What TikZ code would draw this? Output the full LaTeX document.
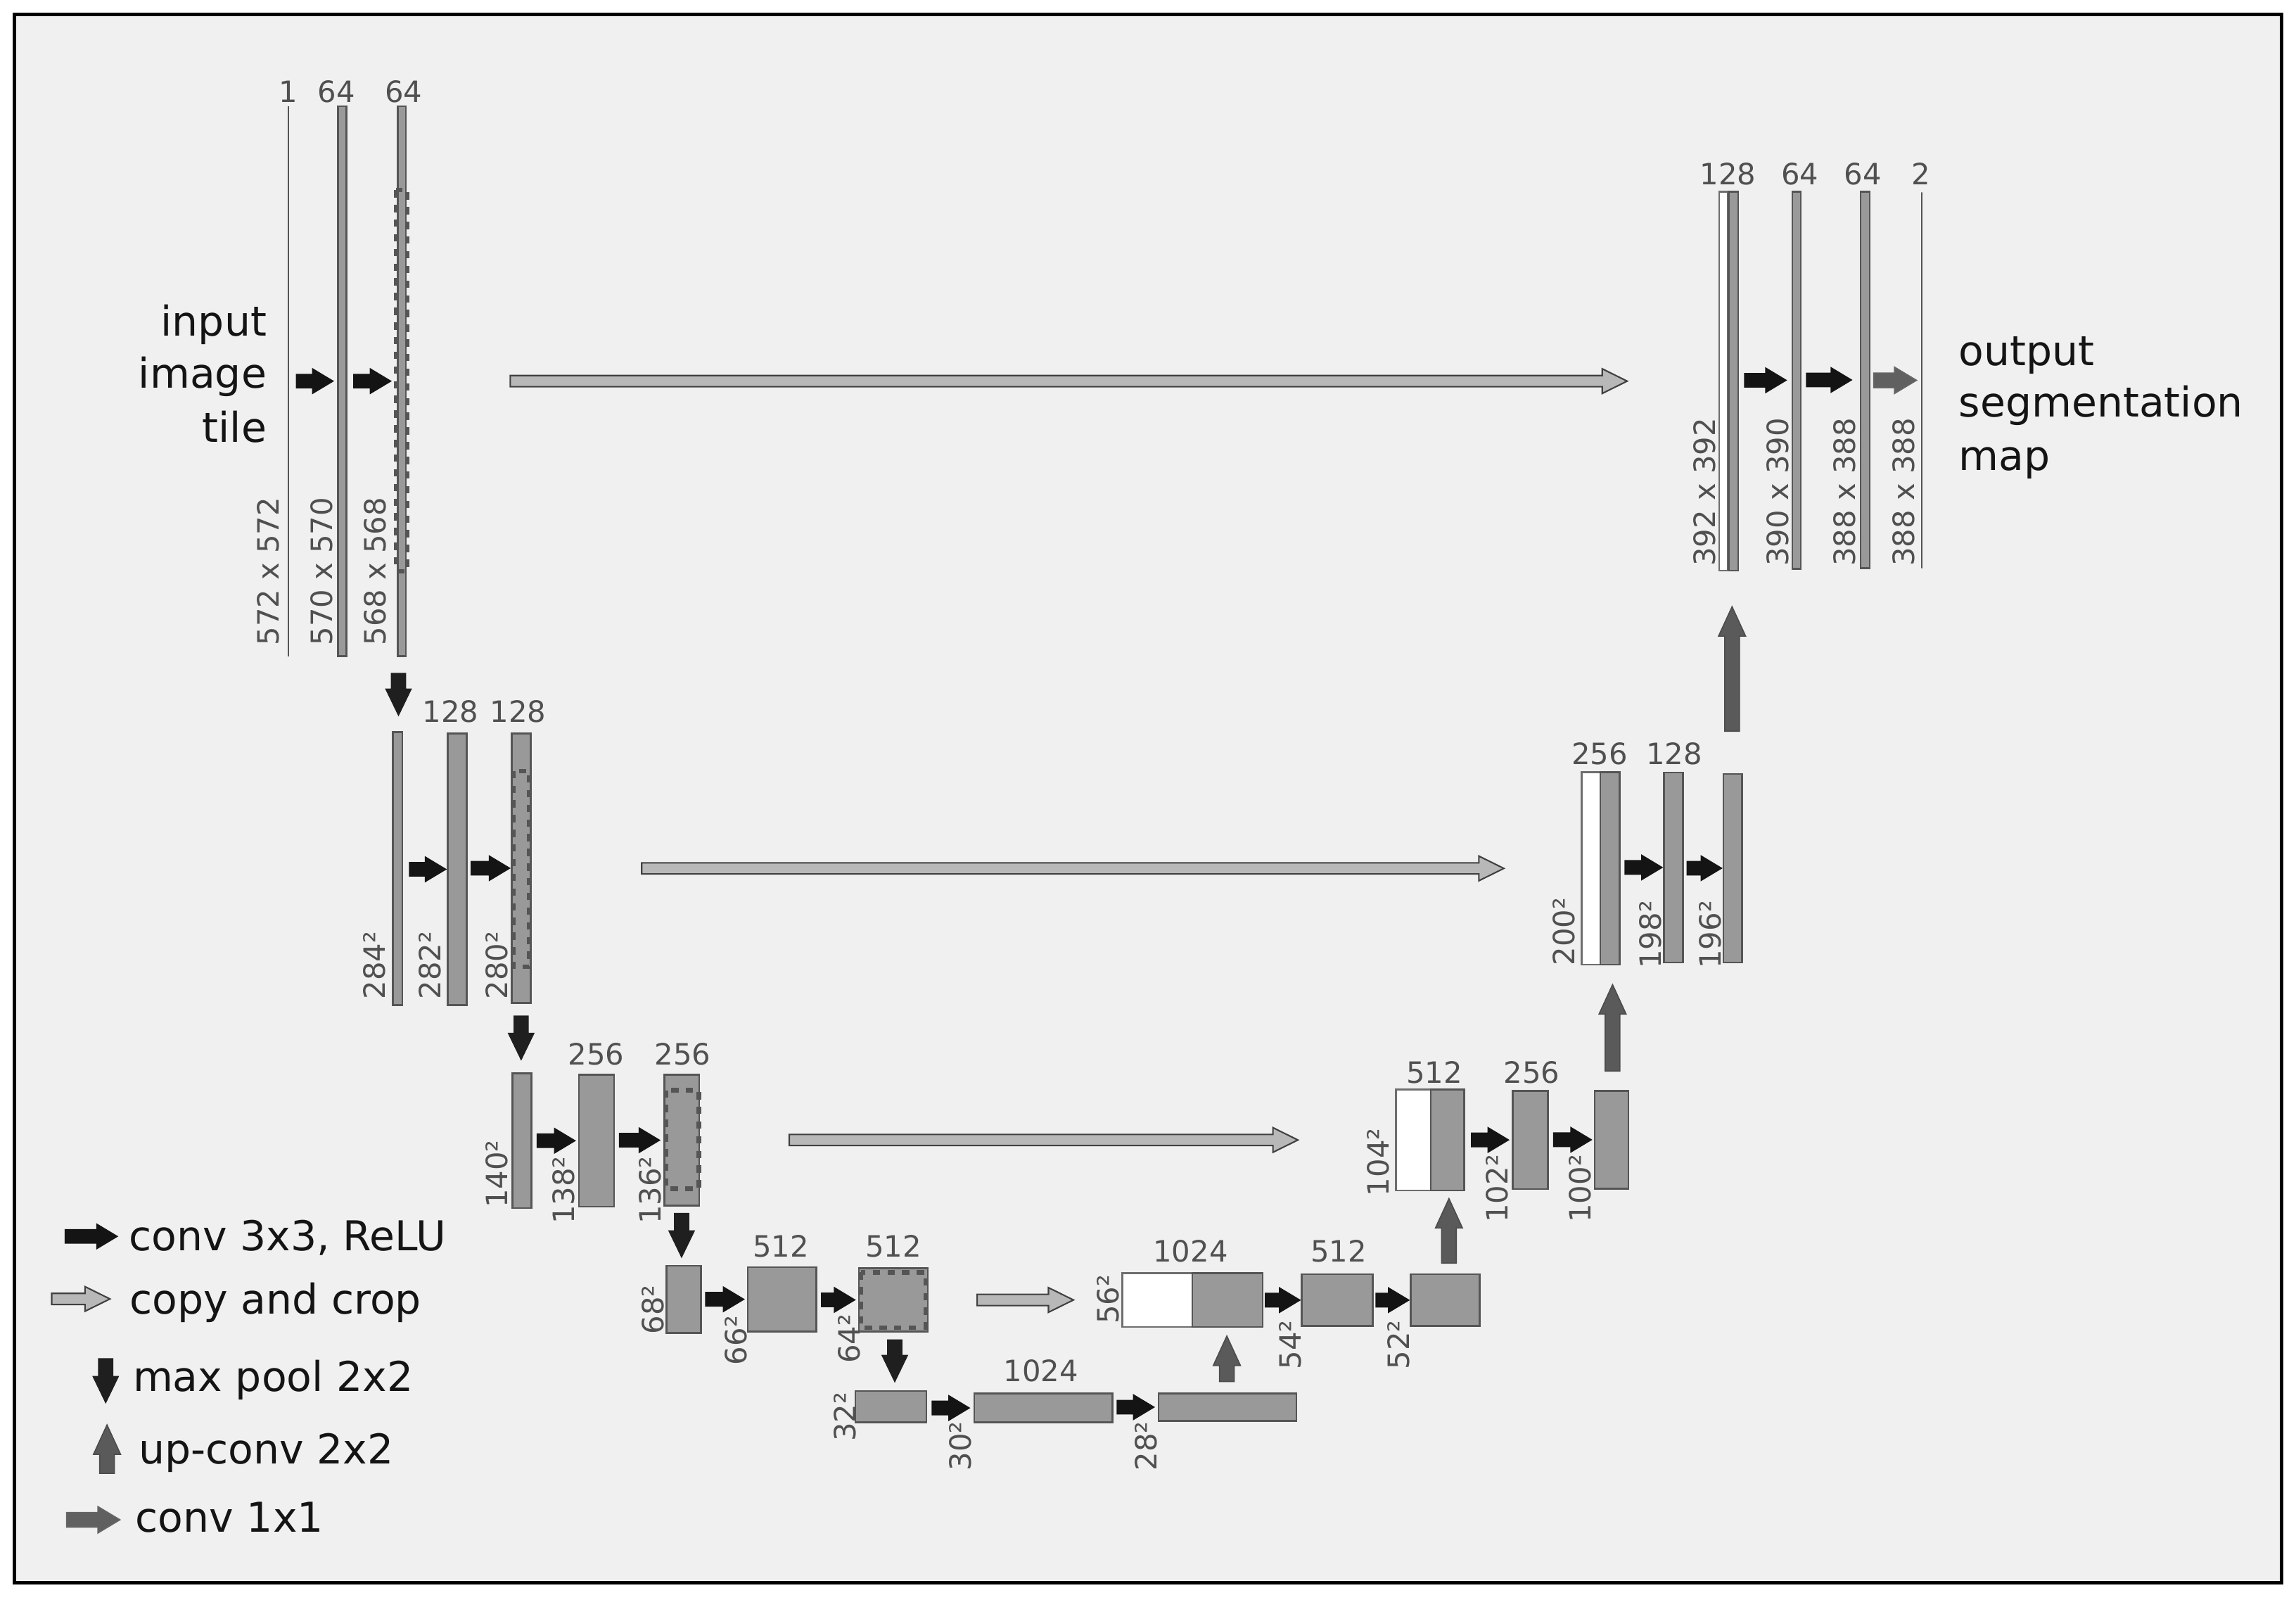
\documentclass[tikz,border=0pt]{standalone}
\usepackage{fontspec}
\setmainfont{DejaVu Sans}
\usetikzlibrary{calc,fit}
\definecolor{bgc}{HTML}{F0F0F0}
\definecolor{barfill}{HTML}{999999}
\definecolor{barline}{HTML}{555555}
\definecolor{numcol}{HTML}{505050}
\definecolor{copyfill}{HTML}{B8B8B8}
\definecolor{upfill}{HTML}{5A5A5A}
\definecolor{cvonefill}{HTML}{606060}
\tikzset{
  graybar/.style={draw=barline, fill=barfill, line width=0.6pt, inner sep=0pt, minimum width=0pt, minimum height=0pt},
  whitebar/.style={draw=barline!85, fill=white, line width=0.6pt, inner sep=0pt, minimum width=0pt, minimum height=0pt},
  thinbar/.style={draw=barline, line width=0.5pt, inner sep=0pt, minimum width=0pt, minimum height=0pt},
  cropbox/.style={draw=barline, line width=1.5pt, dash pattern=on 2.5pt off 2.5pt},
  num/.style={font=\fontsize{10}{12}\selectfont, text=numcol, inner sep=0pt},
  sizelab/.style={num, rotate=90, anchor=base west},
  toplab/.style={num, anchor=base},
  bigtext/.style={font=\fontsize{14}{18}\selectfont, text=black!92, inner sep=0pt},
  convA/.style={fill=black!92},
  poolA/.style={fill=black!88},
  copyA/.style={fill=copyfill, draw=black!75, line width=0.5pt},
  upA/.style={fill=upfill, draw=black!70, line width=0.4pt},
  cvoneA/.style={fill=cvonefill, draw=black!60, line width=0.4pt},
}
% block: optional style, name, x1, y1, x2, y2
\newcommand\blk[6][graybar]{\node[#1, fit={(#3,#4) (#5,#6)}] (#2) {};}
% horizontal block arrow: style, from, to, shaft half, head half, head length
\newcommand\harrow[6]{\path[#1] let \p1=#2, \p2=#3 in
  (\x1,\y2-#4) -- (\x2-#6,\y2-#4) -- (\x2-#6,\y2-#5) -- (\x2,\y2) --
  (\x2-#6,\y2+#5) -- (\x2-#6,\y2+#4) -- (\x1,\y2+#4) -- cycle;}
% vertical block arrow
\newcommand\varrow[6]{\path[#1] let \p1=#2, \p2=#3, \p3=($(\x1,\y2)!#6!(\x1,\y1)$) in
  (\x1-#4,\y1) -- (\x1-#4,\y3) -- (\x1-#5,\y3) -- (\x1,\y2) --
  (\x1+#5,\y3) -- (\x1+#4,\y3) -- (\x1+#4,\y1) -- cycle;}
\newcommand\convarr[2]{\harrow{convA}{#1}{#2}{2.5pt}{4.5pt}{7.5pt}}
\newcommand\cvonearr[2]{\harrow{cvoneA}{#1}{#2}{2.5pt}{4.5pt}{7.5pt}}
\newcommand\copyarr[2]{\harrow{copyA}{#1}{#2}{1.9pt}{4.2pt}{8.5pt}}
\newcommand\poolarr[2]{\varrow{poolA}{#1}{#2}{2.6pt}{4.6pt}{9.5pt}}
\newcommand\uparr[2]{\varrow{upA}{#1}{#2}{2.5pt}{4.6pt}{10pt}}
\begin{document}
\begin{tikzpicture}[x=0.5pt, y=-0.5pt]
\useasboundingbox (0,0) rectangle (1564,1094);
\fill[white] (0,0) rectangle (1564,1094);
\draw[line width=1.25pt, fill=bgc] (10,10) rectangle (1554,1078);

% ---------------- contracting path ----------------
\blk[thinbar]{L1a}{196.6}{72.4}{196.6}{447}
\blk{L1b}{230.2}{72.4}{236}{446.7}
\blk{L1c}{271}{72.4}{276.5}{446.7}
\draw[cropbox] (270,129.5) rectangle (277.5,389);

\blk{L2a}{267.5}{498.5}{274}{684.5}
\blk{L2b}{305}{499.5}{318}{684.5}
\blk{L2c}{348.5}{499.5}{361.5}{683}
\draw[cropbox] (349.5,525) rectangle (360.5,658.5);

\blk{L3a}{349}{731}{362}{822.6}
\blk{L3b}{394.4}{732}{418.3}{821.7}
\blk{L3c}{452.6}{732}{476.4}{821}
\draw[cropbox] (453.8,742.5) rectangle (476,809.5);

\blk{L4a}{454}{862}{477.5}{907.7}
\blk{L4b}{509.4}{863}{556}{906.7}
\blk{L4c}{585}{863.8}{632}{906.7}
\draw[cropbox] (586.5,866.5) rectangle (630.5,904);

\blk{L5a}{582.6}{947.3}{631}{968.7}
\blk{L5b}{663.6}{949}{757.8}{968.7}
\blk{L5c}{789.2}{949}{883}{967.6}

% ---------------- expanding path ----------------
\blk[whitebar]{R4a}{764.5}{867}{812.2}{903.6}
\blk{R4g}{812.2}{867}{860.2}{903.6}
\blk{R4b}{886.8}{867.8}{935}{903}
\blk{R4c}{961}{867.8}{1008}{903}

\blk[whitebar]{R3a}{951}{742}{974.5}{810.7}
\blk{R3g}{974.5}{742}{997.4}{810.7}
\blk{R3b}{1030.4}{742.9}{1054.3}{809.7}
\blk{R3c}{1086.3}{742.9}{1109.2}{809.5}

\blk[whitebar]{R2a}{1077.5}{525.8}{1090}{657}
\blk{R2g}{1090}{525.8}{1103.2}{657}
\blk{R2b}{1133.5}{526}{1146.3}{655.5}
\blk{R2c}{1174}{527}{1186.7}{655.5}

\blk[whitebar]{R1a}{1171}{130.5}{1177}{388.6}
\blk{R1g}{1177.5}{130.5}{1184}{388.6}
\blk{R1b}{1221}{130.5}{1226.6}{387.4}
\blk{R1c}{1267.5}{130.5}{1273.6}{387}
\blk[thinbar]{R1d}{1309}{131}{1309}{387}

% ---------------- conv 3x3 arrows ----------------
\convarr{($(L1a.east)+(4.4,0)$)}{($(L1b.west)+(-2,0)$)}
\convarr{($(L1b.east)+(4,0)$)}{($(L1c.west)+(-3.5,0)$)}
\convarr{($(L2a.east)+(4,0)$)}{(L2b.west)}
\convarr{($(L2b.east)+(2,0)$)}{(L2c.west)}
\convarr{($(L3a.east)+(3,0)$)}{($(L3b.west)+(-1.4,0)$)}
\convarr{($(L3b.east)+(2.7,0)$)}{($(L3c.west)+(-2,0)$)}
\convarr{($(L4a.east)+(2.2,0)$)}{($(L4b.west)+(-1.4,0)$)}
\convarr{($(L4b.east)+(2.6,0)$)}{($(L4c.west)+(-1.4,0)$)}
\convarr{($(L5a.east)+(3,0)$)}{($(L5b.west)+(-2,0)$)}
\convarr{($(L5b.east)+(2.2,0)$)}{($(L5c.west)+(-1.8,0)$)}
\convarr{($(R4g.east)+(0.8,0)$)}{(R4b.west)}
\convarr{($(R4b.east)+(1.3,0)$)}{(R4c.west)}
\convarr{($(R3g.east)+(4,0)$)}{($(R3b.west)+(-1.5,0)$)}
\convarr{($(R3b.east)+(3,0)$)}{($(R3c.west)+(-1,0)$)}
\convarr{($(R2g.east)+(2.8,0)$)}{(R2b.west)}
\convarr{($(R2b.east)+(2,0)$)}{(R2c.west)}
\convarr{($(R1g.east)+(3.4,0)$)}{($(R1b.west)+(-3,0)$)}
\convarr{($(R1b.east)+(3,0)$)}{($(R1c.west)+(-5,0)$)}
\cvonearr{($(R1c.east)+(2.2,0)$)}{($(R1d.west)+(-3,0)$)}

% ---------------- max pool arrows ----------------
\poolarr{($(L1c.south)+(-2.3,11)$)}{($(L2a.north)+(0,-10)$)}
\poolarr{($(L2c.south)+(0,8)$)}{($(L3a.north)+(0,-8)$)}
\poolarr{($(L3c.south)+(-0.2,4.4)$)}{($(L4a.north)+(0,-4.5)$)}
\poolarr{($(L4c.south)+(1,4.8)$)}{($(L5a.north)+(0,-5)$)}

% ---------------- up-conv arrows ----------------
\uparr{($(L5c.north)+(-0.4,-7.5)$)}{($(R4g.south)+(0,5.7)$)}
\uparr{($(R4c.north)+(2.5,-7)$)}{($(R3g.south)+(0,5)$)}
\uparr{($(R3c.north)+(0.7,-12.9)$)}{($(R2g.south)+(0,13)$)}
\uparr{($(R2c.north)+(-0.5,-28.4)$)}{($(R1g.south)+(0,24)$)}

% ---------------- copy and crop arrows ----------------
\copyarr{($(L1c.east)+(70.5,0)$)}{($(R1a.west)+(-62,0)$)}
\copyarr{($(L2c.east)+(75,0)$)}{($(R2a.west)+(-52.5,0)$)}
\copyarr{($(L3c.east)+(60.6,0)$)}{($(R3a.west)+(-66.3,0)$)}
\copyarr{($(L4c.east)+(33,0)$)}{($(R4a.west)+(-32.7,0)$)}

% ---------------- channel labels ----------------
\node[toplab] (c1) at (196.5,69.5) {1};
\node[toplab] (c2) at (229.2,69.5) {64};
\node[toplab] (c3) at (275,69.5) {64};
\node[toplab] (c4) at (307,492) {128};
\node[toplab] (c5) at (353,492) {128};
\node[toplab] (c6) at (406,725) {256};
\node[toplab] (c7) at (465,725) {256};
\node[toplab] (c8) at (532,856) {512};
\node[toplab] (c9) at (608.6,856) {512};
\node[toplab] (c10) at (709,940.6) {1024};
\node[toplab] (c11) at (811,859.6) {1024};
\node[toplab] (c12) at (911.8,859.4) {512};
\node[toplab] (c13) at (977,737.5) {512};
\node[toplab] (c14) at (1043.3,737.5) {256};
\node[toplab] (c15) at (1089.6,520.8) {256};
\node[toplab] (c16) at (1140.4,520.8) {128};
\node[toplab] (c17) at (1177,126) {128};
\node[toplab] (c18) at (1226,126) {64};
\node[toplab] (c19) at (1269,126) {64};
\node[toplab] (c20) at (1308.6,126) {2};

% ---------------- size labels ----------------
\node[sizelab] (s1) at (190,440) {572 x 572};
\node[sizelab] (s2) at (226.5,440) {570 x 570};
\node[sizelab] (s3) at (262.7,440) {568 x 568};
\node[sizelab] (s4) at (262.4,681) {284²};
\node[sizelab] (s5) at (300.3,681) {282²};
\node[sizelab] (s6) at (345.8,681) {280²};
\node[sizelab] (s7) at (345.5,823) {140²};
\node[sizelab] (s8) at (391,834) {138²};
\node[sizelab] (s9) at (450.4,834) {136²};
\node[sizelab] (s10) at (452.2,909) {68²};
\node[sizelab] (s11) at (508.8,930) {66²};
\node[sizelab] (s12) at (586,929) {64²};
\node[sizelab] (s13) at (582.7,982) {32²};
\node[sizelab] (s14) at (661.5,1002) {30²};
\node[sizelab] (s15) at (788,1002) {28²};
\node[sizelab] (s16) at (762.3,902) {56²};
\node[sizelab] (s17) at (886,933) {54²};
\node[sizelab] (s18) at (960,933) {52²};
\node[sizelab] (s19) at (946.3,815) {104²};
\node[sizelab] (s20) at (1027.3,833) {102²};
\node[sizelab] (s21) at (1083.4,833) {100²};
\node[sizelab] (s22) at (1072.5,658) {200²};
\node[sizelab] (s23) at (1131.6,660) {198²};
\node[sizelab] (s24) at (1172.3,660) {196²};
\node[sizelab] (s25) at (1168.3,386) {392 x 392};
\node[sizelab] (s26) at (1218.4,386) {390 x 390};
\node[sizelab] (s27) at (1264,386) {388 x 388};
\node[sizelab] (s28) at (1303.8,386) {388 x 388};

% ---------------- input / output text ----------------
\node[bigtext, anchor=base east] (in1) at (182,229) {input};
\node[bigtext, anchor=base east] (in2) at (182,264.3) {image};
\node[bigtext, anchor=base east] (in3) at (182,301) {tile};
\node[bigtext, anchor=base west] (out1) at (1334,248.8) {output};
\node[bigtext, anchor=base west] (out2) at (1334,284) {segmentation};
\node[bigtext, anchor=base west] (out3) at (1334,320.5) {map};

% ---------------- legend ----------------
\coordinate (k1s) at (44,842);
\coordinate (k1e) at (80.6,842);
\coordinate (k2s) at (35.2,884.6);
\coordinate (k2e) at (74.9,884.6);
\coordinate (k3s) at (72,925);
\coordinate (k3e) at (72,956);
\coordinate (k4s) at (72.9,1003.4);
\coordinate (k4e) at (72.9,970.4);
\coordinate (k5s) at (45.4,1035);
\coordinate (k5e) at (81.7,1035);
\convarr{(k1s)}{(k1e)}
\copyarr{(k2s)}{(k2e)}
\poolarr{(k3s)}{(k3e)}
\uparr{(k4s)}{(k4e)}
\cvonearr{(k5s)}{(k5e)}
\node[bigtext, anchor=base west] (t1) at (87.5,851.6) {conv 3x3, ReLU};
\node[bigtext, anchor=base west] (t2) at (88,894.7) {copy and crop};
\node[bigtext, anchor=base west] (t3) at (90.2,947.3) {max pool 2x2};
\node[bigtext, anchor=base west] (t4) at (94,997) {up-conv 2x2};
\node[bigtext, anchor=base west] (t5) at (92,1043.4) {conv 1x1};
\end{tikzpicture}
\end{document}
